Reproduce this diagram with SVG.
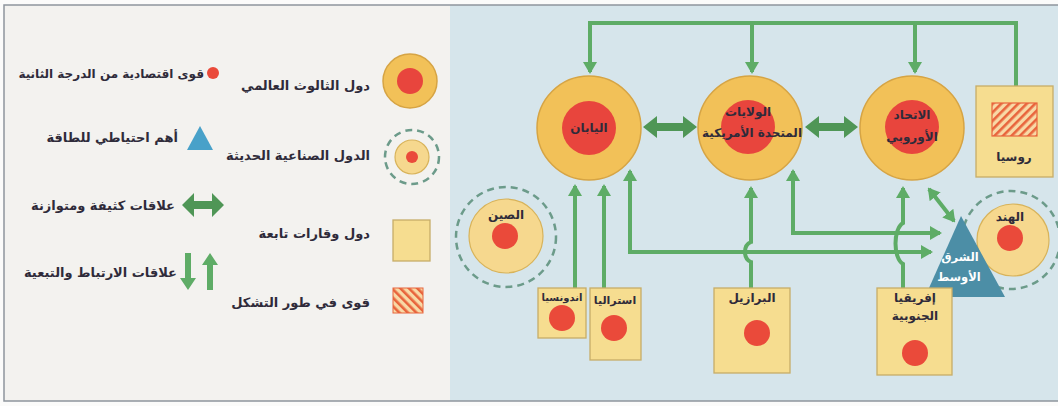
<svg xmlns="http://www.w3.org/2000/svg" width="1058" height="406" viewBox="0 0 1058 406">
<style>
text{font-family:"DejaVu Sans","Noto Sans",sans-serif;font-weight:bold;fill:#2f2b3a}
.leg{font-size:13px;text-anchor:end}
.lbl{font-size:12px;text-anchor:middle}
.wt{fill:#ffffff;font-size:11.5px}
.con{fill:none;stroke:#5eac66;stroke-width:4}
.ring{fill:#f2c158;stroke:#d6a444;stroke-width:1.5}
.core{fill:#e8453d}
.dot{fill:#ea4a3a}
.lring{fill:#f6d88e;stroke:#d8b35a;stroke-width:1.2}
.dash{fill:none;stroke:#6c9b8a;stroke-width:2.5;stroke-dasharray:7 5}
.box{fill:#f6dd90;stroke:#c7ad68;stroke-width:1.3}
.thick{fill:#4f9656}
.thin{fill:#5eac66}
</style>
<defs>
<marker id="ah" viewBox="0 0 12 14" refX="10" refY="7" markerWidth="12" markerHeight="14" markerUnits="userSpaceOnUse" orient="auto-start-reverse">
<path d="M0,0 L12,7 L0,14 z" fill="#5eac66"/>
</marker>
<pattern id="hatchR" width="6" height="6" patternUnits="userSpaceOnUse" patternTransform="rotate(45)">
<rect width="6" height="6" fill="#f8d9a6"/>
<rect width="2.6" height="6" fill="#e8643c"/>
</pattern>
<pattern id="hatchL" width="6" height="6" patternUnits="userSpaceOnUse" patternTransform="rotate(-45)">
<rect width="6" height="6" fill="#f8d9a6"/>
<rect width="2.6" height="6" fill="#e8643c"/>
</pattern>
</defs>

<rect x="0" y="0" width="1058" height="406" fill="#fbfbfa"/>
<rect x="4" y="5" width="446" height="396" fill="#f3f2ef"/>
<rect x="450" y="5" width="608" height="396" fill="#d6e5eb"/>
<path d="M1058,5 H4 V401 H1058" fill="none" stroke="#8e959d" stroke-width="1.5"/>

<g id="legend">
<g id="legend-second-economic">
<circle cx="213" cy="73" r="6" class="dot"/>
<text class="leg" x="204" y="78" style="font-size:12px">قوى اقتصادية من الدرجة الثانية</text>
</g>
<g id="legend-energy">
<polygon points="200,126 187,150 213,150" fill="#48a1c9"/>
<text class="leg" x="178" y="142">أهم احتياطي للطاقة</text>
</g>
<g id="legend-dense">
<polygon class="thick" points="182,205 194,193 194,201 212,201 212,193 224,205 212,217 212,209 194,209 194,217"/>
<text class="leg" x="175" y="210">علاقات كثيفة ومتوازنة</text>
</g>
<g id="legend-dependency">
<polygon class="thin" points="185,253 191,253 191,278 196,278 188,290 180,278 185,278"/>
<polygon class="thin" points="207,290 213,290 213,265 218,265 210,253 202,265 207,265"/>
<text class="leg" x="177" y="277">علاقات الارتباط والتبعية</text>
</g>
<g id="legend-triad">
<circle cx="410" cy="81" r="27" class="ring"/>
<circle cx="410" cy="81" r="13" class="core"/>
<text class="leg" x="370" y="90">دول الثالوث العالمي</text>
</g>
<g id="legend-nic">
<circle cx="412" cy="157" r="27" class="dash"/>
<circle cx="412" cy="157" r="17" class="lring"/>
<circle cx="412" cy="157" r="6" class="dot"/>
<text class="leg" x="370" y="160">الدول الصناعية الحديثة</text>
</g>
<g id="legend-dependent">
<rect x="393" y="220" width="37" height="41" class="box"/>
<text class="leg" x="370" y="238">دول وقارات تابعة</text>
</g>
<g id="legend-emerging">
<rect x="393" y="288" width="30" height="25" fill="url(#hatchL)" stroke="#e8643c" stroke-width="1"/>
<text class="leg" x="370" y="307">قوى في طور التشكل</text>
</g>
</g>

<g id="connectors">
<path class="con" d="M590,72 V23 H1016 V86" marker-start="url(#ah)"/>
<path class="con" d="M752,23 V72" marker-end="url(#ah)"/>
<path class="con" d="M915,23 V72" marker-end="url(#ah)"/>
<path class="con" d="M575,288 V186" marker-end="url(#ah)"/>
<path class="con" d="M604,288 V186" marker-end="url(#ah)"/>
<path class="con" d="M630,171 V252 H931" marker-start="url(#ah)" marker-end="url(#ah)"/>
<path class="con" d="M793,171 V233 H940" marker-start="url(#ah)" marker-end="url(#ah)"/>
<path class="con" d="M751,288 V262 C743,259 743,245 751,242 V188" marker-end="url(#ah)"/>
<path class="con" d="M903,288 V264 C893,258 893,229 903,223 V188" marker-end="url(#ah)"/>
<path class="con" d="M929,189 L954,221" marker-start="url(#ah)" marker-end="url(#ah)"/>
<polygon class="thick" points="643,127 657,116 657,123 683,123 683,116 697,127 683,138 683,131 657,131 657,138"/>
<polygon class="thick" points="805,127 819,116 819,123 844,123 844,116 858,127 844,138 844,131 819,131 819,138"/>
</g>

<g id="japan">
<circle cx="589" cy="128" r="52" class="ring"/>
<circle cx="589" cy="128" r="27" class="core"/>
<text class="lbl" x="589" y="132">اليابان</text>
</g>
<g id="usa">
<circle cx="750" cy="128" r="52" class="ring"/>
<circle cx="748" cy="127" r="27" class="core"/>
<text class="lbl" x="748" y="116">الولايات</text>
<text class="lbl" x="752" y="137">المتحدة الأمريكية</text>
</g>
<g id="eu">
<circle cx="912" cy="128" r="52" class="ring"/>
<circle cx="912" cy="127" r="27" class="core"/>
<text class="lbl" x="912" y="119">الاتحاد</text>
<text class="lbl" x="912" y="141">الأوروبي</text>
</g>
<g id="russia">
<rect x="976" y="86" width="77" height="91" class="box"/>
<rect x="992" y="103" width="45" height="33" fill="url(#hatchR)" stroke="#e8643c" stroke-width="1.2"/>
<text class="lbl" x="1014" y="161">روسيا</text>
</g>
<g id="china">
<circle cx="506" cy="237" r="50" class="dash"/>
<circle cx="506" cy="236" r="37" class="lring"/>
<circle cx="505" cy="236" r="13" class="dot"/>
<text class="lbl" x="506" y="219">الصين</text>
</g>
<g id="india">
<circle cx="1011" cy="240" r="49" class="dash"/>
<circle cx="1013" cy="240" r="36" class="lring"/>
<circle cx="1010" cy="238" r="13" class="dot"/>
<text class="lbl" x="1010" y="221">الهند</text>
</g>
<g id="middle-east">
<polygon points="961,216 925,297 1005,297" fill="#4c8ea6"/>
<text class="lbl wt" x="960" y="261">الشرق</text>
<text class="lbl wt" x="959" y="281">الأوسط</text>
</g>
<g id="indonesia">
<rect x="538" y="288" width="48" height="50" class="box"/>
<circle cx="562" cy="318" r="13" class="dot"/>
<text class="lbl" x="562" y="301" style="font-size:10px">اندونسيا</text>
</g>
<g id="australia">
<rect x="590" y="288" width="51" height="72" class="box"/>
<circle cx="614" cy="328" r="13" class="dot"/>
<text class="lbl" x="615" y="304" style="font-size:11px">استراليا</text>
</g>
<g id="brazil">
<rect x="714" y="288" width="76" height="85" class="box"/>
<circle cx="757" cy="333" r="13" class="dot"/>
<text class="lbl" x="752" y="302">البرازيل</text>
</g>
<g id="south-africa">
<rect x="877" y="288" width="75" height="87" class="box"/>
<circle cx="915" cy="353" r="13" class="dot"/>
<text class="lbl" x="915" y="302">إفريقيا</text>
<text class="lbl" x="915" y="320">الجنوبية</text>
</g>
</svg>
